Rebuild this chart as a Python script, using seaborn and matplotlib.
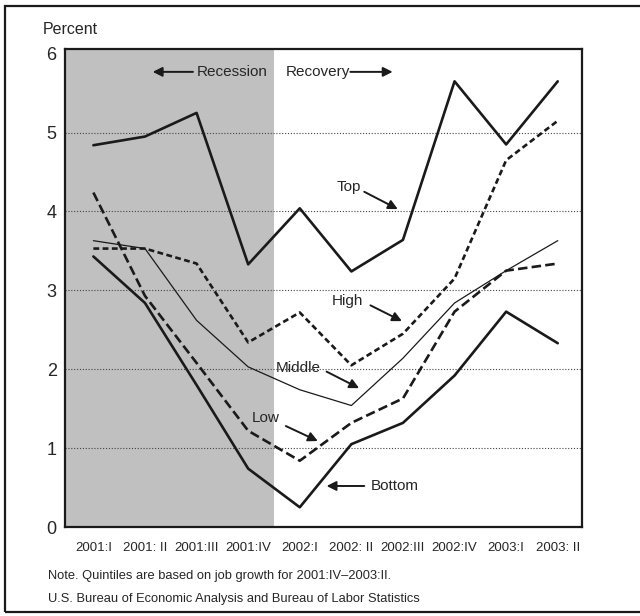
import matplotlib
matplotlib.use("Agg")
import matplotlib.pyplot as plt
from matplotlib.patches import Rectangle
import numpy as np
import seaborn as sns

sns.set_style("white")
plt.rcParams['font.family'] = ['Liberation Sans Narrow', 'Liberation Sans', 'DejaVu Sans']

quarters = ["2001:I", "2001: II", "2001:III", "2001:IV", "2002:I",
            "2002: II", "2002:III", "2002:IV", "2003:I", "2003: II"]
top = [4.84, 4.95, 5.25, 3.33, 4.04, 3.24, 3.64, 5.65, 4.85, 5.65]
high = [3.53, 3.53, 3.34, 2.34, 2.72, 2.05, 2.45, 3.15, 4.65, 5.15]
middle = [3.63, 3.53, 2.62, 2.03, 1.74, 1.54, 2.14, 2.84, 3.25, 3.63]
low = [4.24, 2.93, 2.08, 1.22, 0.84, 1.32, 1.63, 2.73, 3.25, 3.34]
bottom = [3.43, 2.84, 1.80, 0.74, 0.25, 1.05, 1.32, 1.92, 2.73, 2.33]

x = np.arange(len(quarters))

fig = plt.figure(figsize=(6.4, 6.16), dpi=100)
ax = fig.add_axes([65 / 640, 89 / 616, 517 / 640, 478 / 616])

# recession shading
ax.axvspan(-0.6, 3.5, color='#c0c0c0', lw=0, zorder=0)

# dotted gridlines
for yv in range(1, 6):
    ax.axhline(yv, color='#444444', lw=0.8, ls=(0, (1, 1.6)), zorder=1)

sns.lineplot(x=x, y=top, ax=ax, color='#1a1a1a', lw=1.9, zorder=3)
sns.lineplot(x=x, y=high, ax=ax, color='#1a1a1a', lw=1.9, ls=(0, (2.2, 1.3)), zorder=3)
sns.lineplot(x=x, y=middle, ax=ax, color='#1a1a1a', lw=0.9, zorder=3)
sns.lineplot(x=x, y=low, ax=ax, color='#1a1a1a', lw=1.9, ls=(0, (3.6, 1.6)), zorder=3)
sns.lineplot(x=x, y=bottom, ax=ax, color='#1a1a1a', lw=1.9, zorder=3)

ax.set_xlim(-0.55, 9.47)
ax.set_ylim(0, 6.06)
ax.set_yticks(range(0, 7))
ax.set_yticklabels([str(v) for v in range(0, 7)], fontsize=13)
ax.tick_params(axis='y', length=0, pad=6)

# category labels at centres, tick marks between categories
ax.set_xticks(x)
ax.set_xticklabels(quarters, fontsize=9.5)
ax.tick_params(axis='x', length=0, pad=11)
ax.set_xticks(np.arange(0.5, 9.0, 1.0), minor=True)
ax.tick_params(axis='x', which='minor', direction='in', length=14, width=1.3, color='#1a1a1a')

for s in ax.spines.values():
    s.set_color('#1a1a1a')
    s.set_linewidth(1.6)
ax.set_xlabel('')
ax.set_ylabel('')

# annotations
arrow = dict(arrowstyle='-|>', color='#1a1a1a', lw=1.4, mutation_scale=14, shrinkA=0, shrinkB=0)
ax.text(3.38, 5.77, 'Recession', fontsize=11, ha='right', va='center')
ax.annotate('', xy=(1.15, 5.77), xytext=(1.93, 5.77), arrowprops=arrow)
ax.text(3.72, 5.77, 'Recovery', fontsize=11, ha='left', va='center')
ax.annotate('', xy=(5.8, 5.77), xytext=(4.98, 5.77), arrowprops=arrow)

ax.text(4.96, 4.31, 'Top', fontsize=11, ha='center', va='center')
ax.annotate('', xy=(5.9, 4.03), xytext=(5.25, 4.25), arrowprops=arrow)
ax.text(4.92, 2.86, 'High', fontsize=11, ha='center', va='center')
ax.annotate('', xy=(5.98, 2.61), xytext=(5.37, 2.81), arrowprops=arrow)
ax.text(3.97, 2.02, 'Middle', fontsize=11, ha='center', va='center')
ax.annotate('', xy=(5.15, 1.76), xytext=(4.52, 1.97), arrowprops=arrow)
ax.text(3.33, 1.38, 'Low', fontsize=11, ha='center', va='center')
ax.annotate('', xy=(4.35, 1.09), xytext=(3.73, 1.28), arrowprops=arrow)
ax.text(5.38, 0.52, 'Bottom', fontsize=11, ha='left', va='center')
ax.annotate('', xy=(4.52, 0.52), xytext=(5.25, 0.52), arrowprops=arrow)

fig.text(43 / 640, 1 - 30 / 616, 'Percent', fontsize=11.5, ha='left', va='center')
fig.text(48 / 640, 1 - 576 / 616, 'Note. Quintiles are based on job growth for 2001:IV\u20132003:II.',
         fontsize=9.3, ha='left', va='center')
fig.text(48 / 640, 1 - 599 / 616, 'U.S. Bureau of Economic Analysis and Bureau of Labor Statistics',
         fontsize=9.3, ha='left', va='center')

# outer frame
fig.patches.append(Rectangle((5 / 640, 4 / 616), 1.0, 1 - 10 / 616, transform=fig.transFigure,
                             fill=False, ec='#1a1a1a', lw=1.6))

fig.savefig('out.png', dpi=100)
